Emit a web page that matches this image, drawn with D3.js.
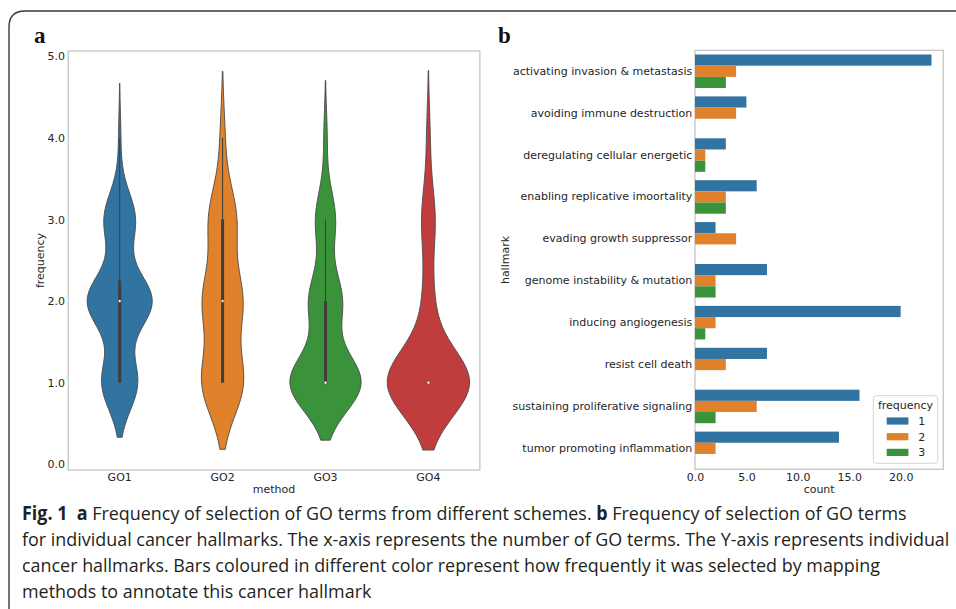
<!DOCTYPE html>
<html>
<head>
<meta charset="utf-8">
<script src="https://cdn.jsdelivr.net/npm/d3@7"></script>
<style>
  html, body { margin: 0; padding: 0; background: #fff; }
  svg { display: block; }
</style>
</head>
<body>
<svg id="fig" width="956" height="609"></svg>
<script>
// ---- Panel a: how many GO terms were picked 1, 2, 3 or 4 times under each scheme
const methods = ["GO1", "GO2", "GO3", "GO4"];
const timesSelected = [1, 2, 3, 4];
const go1Counts = [16, 29, 14, 1];
const go2Counts = [18, 17, 12, 2];
const go3Counts = [43, 20, 12, 2];
const go4Counts = [25, 3, 4, 1];
const frequencyTicks = [0, 1, 2, 3, 4, 5];

// ---- Panel b: GO-term counts per hallmark, split by selection frequency
const hallmarks = [
  "activating invasion & metastasis",
  "avoiding immune destruction",
  "deregulating cellular energetic",
  "enabling replicative imoortality",
  "evading growth suppressor",
  "genome instability & mutation",
  "inducing angiogenesis",
  "resist cell death",
  "sustaining proliferative signaling",
  "tumor promoting inflammation"
];
const frequencyLevels = ["1", "2", "3"];
const countFreq1 = [23, 5, 3, 6, 2, 7, 20, 7, 16, 14];
const countFreq2 = [4, 4, 1, 3, 4, 2, 2, 3, 6, 2];
const countFreq3 = [3, 0, 1, 3, 0, 2, 1, 0, 2, 0];
const countTicks = [0, 5, 10, 15, 20];

const palette = ["#3274a1", "#e1812c", "#3a923a", "#c03d3e"];
const innerGray = "#3d3d3d";
const spineColor = "#c6c6c6";
const textColor = "#262626";
const tickFont = "DejaVu Sans, sans-serif";

const svg = d3.select("#fig");
svg.append("rect").attr("width", 956).attr("height", 609).attr("fill", "#fff");

// ---- figure frame (rounded top-left corner, open to the right and bottom)
svg.append("path")
  .attr("d", "M9,640 L9,27 Q9,11 25,11 L980,11")
  .attr("fill", "none").attr("stroke", "#3a3a3a").attr("stroke-width", 1.4);

// panel letters
svg.append("text").attr("x", 34).attr("y", 43).text("a")
  .attr("font-family", "Liberation Serif, serif").attr("font-weight", "bold")
  .attr("font-size", 23).attr("fill", "#111");
svg.append("text").attr("x", 498).attr("y", 43).text("b")
  .attr("font-family", "Liberation Serif, serif").attr("font-weight", "bold")
  .attr("font-size", 23).attr("fill", "#111");

// =================== Panel a: violin plot ===================
const boxA = { left: 68.25, right: 479.85, top: 51, bottom: 470 };
const xA = d3.scaleBand().domain(methods).range([boxA.left, boxA.right]).padding(0);
const yA = d3.scaleLinear().domain([0, 5]).range([464.3, 56.3]);

function expand(counts) {
  const out = [];
  counts.forEach((c, i) => { for (let k = 0; k < c; k++) out.push(timesSelected[i]); });
  return out;
}

// Gaussian KDE with Scott's bandwidth, evaluated on a 100-point grid cut 2 bw beyond the data
const violins = [go1Counts, go2Counts, go3Counts, go4Counts].map((counts, i) => {
  const vals = expand(counts);
  const n = vals.length;
  const bw = Math.pow(n, -0.2) * d3.deviation(vals);
  const lo = d3.min(vals) - 2 * bw, hi = d3.max(vals) + 2 * bw;
  const grid = d3.range(100).map(j => lo + (hi - lo) * j / 99);
  const dens = grid.map(g =>
    d3.sum(vals, v => Math.exp(-0.5 * ((g - v) / bw) ** 2)) / (n * bw * Math.sqrt(2 * Math.PI)));
  const q1 = d3.quantileSorted(vals, 0.25);
  const q2 = d3.quantileSorted(vals, 0.5);
  const q3 = d3.quantileSorted(vals, 0.75);
  const iqr = q3 - q1;
  const w1 = d3.min(vals.filter(v => v >= q1 - 1.5 * iqr));
  const w2 = d3.max(vals.filter(v => v <= q3 + 1.5 * iqr));
  return { method: methods[i], color: palette[i], grid, dens, q1, q2, q3, w1, w2 };
});
const maxDensity = d3.max(violins, v => d3.max(v.dens));
const halfWidth = d3.scaleLinear().domain([0, maxDensity]).range([0, xA.bandwidth() * 0.4]);

const gA = svg.append("g");
gA.append("rect")
  .attr("x", boxA.left).attr("y", boxA.top)
  .attr("width", boxA.right - boxA.left).attr("height", boxA.bottom - boxA.top)
  .attr("fill", "none").attr("stroke", spineColor).attr("stroke-width", 1.3);

violins.forEach(v => {
  const cx = xA(v.method) + xA.bandwidth() / 2;
  const pts = v.grid.map((g, j) => ({ g, d: v.dens[j] }));
  const area = d3.area()
    .y(p => yA(p.g))
    .x0(p => cx - halfWidth(p.d))
    .x1(p => cx + halfWidth(p.d));
  gA.append("path").attr("d", area(pts))
    .attr("fill", v.color).attr("stroke", "#4a4a4a").attr("stroke-width", 0.9);
  // whiskers, interquartile box, median
  gA.append("line").attr("x1", cx).attr("x2", cx)
    .attr("y1", yA(v.w1)).attr("y2", yA(v.w2))
    .attr("stroke", innerGray).attr("stroke-width", 1);
  if (v.q3 > v.q1) {
    gA.append("line").attr("x1", cx).attr("x2", cx)
      .attr("y1", yA(v.q1)).attr("y2", yA(v.q3))
      .attr("stroke", innerGray).attr("stroke-width", 3);
  }
  gA.append("circle").attr("cx", cx).attr("cy", yA(v.q2)).attr("r", 1.4)
    .attr("fill", "#fff").attr("stroke", innerGray).attr("stroke-width", 0.4);
});

const axLeftA = gA.append("g").attr("transform", `translate(${boxA.left},0)`)
  .call(d3.axisLeft(yA).tickValues(frequencyTicks).tickFormat(d3.format(".1f")).tickSize(0).tickPadding(3.3));
const axBottomA = gA.append("g").attr("transform", `translate(0,${boxA.bottom})`)
  .call(d3.axisBottom(xA).tickSize(0).tickPadding(3));
[axLeftA, axBottomA].forEach(ax => {
  ax.select(".domain").remove();
  ax.selectAll("text").attr("font-family", tickFont).attr("font-size", 11).attr("fill", textColor);
});

gA.append("text").attr("x", (boxA.left + boxA.right) / 2).attr("y", 493)
  .attr("text-anchor", "middle").text("method")
  .attr("font-family", tickFont).attr("font-size", 11).attr("fill", textColor);
gA.append("text").attr("transform", "translate(44,260.5) rotate(-90)")
  .attr("text-anchor", "middle").text("frequency")
  .attr("font-family", tickFont).attr("font-size", 11).attr("fill", textColor);

// =================== Panel b: grouped horizontal bars ===================
const boxB = { left: 695, right: 943.3, top: 50.3, bottom: 469.3 };
const series = [countFreq1, countFreq2, countFreq3];
const maxCount = d3.max(series, s => d3.max(s));
const xB = d3.scaleLinear().domain([0, maxCount * 1.05]).range([boxB.left, boxB.right]);
const yB = d3.scaleBand().domain(hallmarks).range([boxB.top, boxB.bottom]).padding(0);
const yInner = d3.scaleBand().domain(frequencyLevels)
  .range([yB.bandwidth() * 0.1, yB.bandwidth() * 0.9]).padding(0);

const gB = svg.append("g");
gB.append("rect")
  .attr("x", boxB.left).attr("y", boxB.top)
  .attr("width", boxB.right - boxB.left).attr("height", boxB.bottom - boxB.top)
  .attr("fill", "none").attr("stroke", spineColor).attr("stroke-width", 1.3);

const barRows = [];
hallmarks.forEach((h, i) => {
  series.forEach((s, k) => {
    if (s[i] > 0) barRows.push({ hallmark: h, level: frequencyLevels[k], value: s[i], color: palette[k] });
  });
});
gB.selectAll("rect.bar").data(barRows).join("rect").attr("class", "bar")
  .attr("x", xB(0))
  .attr("y", d => yB(d.hallmark) + yInner(d.level))
  .attr("width", d => xB(d.value) - xB(0))
  .attr("height", yInner.bandwidth())
  .attr("fill", d => d.color);

const axLeftB = gB.append("g").attr("transform", `translate(${boxB.left},0)`)
  .call(d3.axisLeft(yB).tickSize(0).tickPadding(2.7));
const axBottomB = gB.append("g").attr("transform", `translate(0,${boxB.bottom})`)
  .call(d3.axisBottom(xB).tickValues(countTicks).tickFormat(d3.format(".1f")).tickSize(0).tickPadding(3.5));
[axLeftB, axBottomB].forEach(ax => {
  ax.select(".domain").remove();
  ax.selectAll("text").attr("font-family", tickFont).attr("font-size", 11).attr("fill", textColor);
});

gB.append("text").attr("x", (boxB.left + boxB.right) / 2).attr("y", 493)
  .attr("text-anchor", "middle").text("count")
  .attr("font-family", tickFont).attr("font-size", 11).attr("fill", textColor);
gB.append("text").attr("transform", "translate(509,260) rotate(-90)")
  .attr("text-anchor", "middle").text("hallmark")
  .attr("font-family", tickFont).attr("font-size", 11).attr("fill", textColor);

// legend
const leg = gB.append("g").attr("transform", "translate(873.3,395.7)");
leg.append("rect").attr("width", 64.4).attr("height", 67.6).attr("rx", 3)
  .attr("fill", "#fff").attr("fill-opacity", 0.85)
  .attr("stroke", "#d4d4d4").attr("stroke-width", 1);
leg.append("text").attr("x", 32.2).attr("y", 13.3).attr("text-anchor", "middle")
  .text("frequency").attr("font-family", tickFont).attr("font-size", 11).attr("fill", textColor);
frequencyLevels.forEach((lvl, k) => {
  const cy = 25.3 + k * 15.7;
  leg.append("rect").attr("x", 13.4).attr("y", cy - 3.6).attr("width", 21.7).attr("height", 7.2)
    .attr("fill", palette[k]);
  leg.append("text").attr("x", 45).attr("y", cy + 4).text(lvl)
    .attr("font-family", tickFont).attr("font-size", 11).attr("fill", textColor);
});

// =================== Caption ===================
const captionLines = [
  [["Fig. 1", true], ["\u00a0\u00a0", false], ["a", true],
   [" Frequency of selection of GO terms from different schemes. ", false], ["b", true],
   [" Frequency of selection of GO terms", false]],
  [["for individual cancer hallmarks. The x-axis represents the number of GO terms. The Y-axis represents individual", false]],
  [["cancer hallmarks. Bars coloured in different color represent how frequently it was selected by mapping", false]],
  [["methods to annotate this cancer hallmark", false]]
];
const captionBaselines = [520, 546, 572, 598];
const capG = svg.append("g");
const capTexts = captionLines.map((parts, i) => {
  const t = capG.append("text")
    .attr("font-family", "Open Sans, sans-serif").attr("font-size", 18.8).attr("fill", "#231f20");
  parts.forEach(([s, bold]) => {
    t.append("tspan").text(s).attr("font-weight", bold ? "bold" : "normal");
  });
  return t;
});
const targetWidth = 948.7 - 22;
const squeeze = targetWidth / capTexts[1].node().getComputedTextLength();
capTexts.forEach((t, i) => t.attr("transform", `translate(22,${captionBaselines[i]}) scale(${squeeze},1)`));
</script>
</body>
</html>
